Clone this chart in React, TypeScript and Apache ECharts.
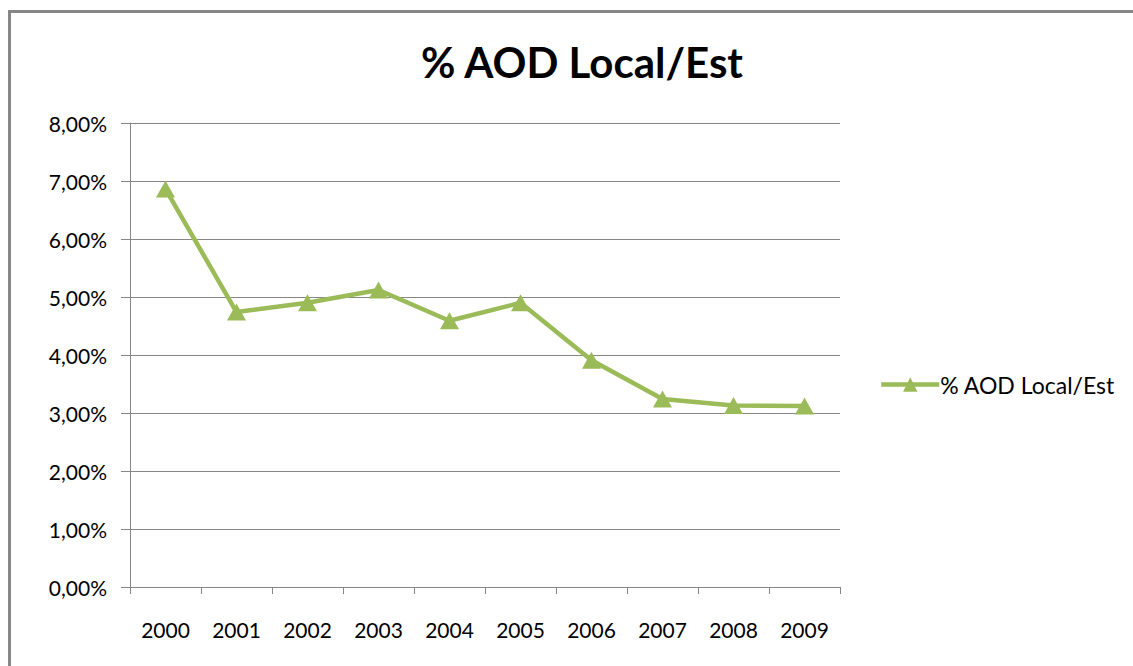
import React, { useEffect, useRef } from "react";
import * as echarts from "echarts";

const title = "% AOD Local/Est";
const seriesName = "% AOD Local/Est";
const years = ["2000", "2001", "2002", "2003", "2004", "2005", "2006", "2007", "2008", "2009"];
const values = [0.0686, 0.0474, 0.0490, 0.0512, 0.0459, 0.0490, 0.0391, 0.0324, 0.0313, 0.0312];
const yMin = 0;
const yMax = 0.08;
const yStep = 0.01;

const FONT = "Lato";

export default function App() {
  const ref = useRef<HTMLDivElement>(null);
  useEffect(() => {
    if (!ref.current) return;
    const chart = echarts.init(ref.current, undefined, { renderer: "svg" });
    chart.setOption({
      animation: false,
      backgroundColor: "#ffffff",
      textStyle: { fontFamily: FONT },
      title: {
        text: title,
        left: 577,
        top: 36,
        textAlign: "center",
        textStyle: { fontFamily: FONT, fontWeight: "bold", fontSize: 42, color: "#000000" },
      },
      graphic: [
        {
          type: "rect",
          shape: { x: 9.5, y: 11.5, width: 1200, height: 700 },
          style: { fill: "none", stroke: "#878787", lineWidth: 3 },
          silent: true,
          z: 100,
        },
      ],
      legend: {
        left: 874,
        top: 368,
        orient: "vertical",
        itemWidth: 58,
        itemHeight: 18,
        itemGap: 5,
        lineStyle: { width: 4.5 },
        textStyle: { fontFamily: FONT, fontSize: 23, color: "#000000", padding: [0, 0, 0, -4] },
        data: [seriesName],
      },
      grid: { left: 130, right: 293, top: 123, bottom: 79, containLabel: false },
      xAxis: {
        type: "category",
        data: years,
        boundaryGap: true,
        axisLine: { show: true, lineStyle: { color: "#868686", width: 1 } },
        axisTick: { show: true, length: 7, lineStyle: { color: "#868686" } },
        axisLabel: { color: "#000000", fontSize: 21, fontFamily: FONT, margin: 32 },
        splitLine: { show: false },
      },
      yAxis: {
        type: "value",
        min: yMin,
        max: yMax,
        interval: yStep,
        axisLine: { show: true, lineStyle: { color: "#868686", width: 1 } },
        axisTick: { show: true, length: 9, lineStyle: { color: "#868686" } },
        axisLabel: {
          color: "#000000",
          fontSize: 21,
          fontFamily: FONT,
          margin: 23,
          formatter: (v: number) => (v * 100).toFixed(2).replace(".", ",") + "%",
        },
        splitLine: { show: true, lineStyle: { color: "#868686", width: 1 } },
      },
      series: [
        {
          name: seriesName,
          type: "line",
          data: values,
          symbol: "triangle",
          symbolSize: [19, 17],
          showSymbol: true,
          lineStyle: { color: "#9BBB59", width: 4.5 },
          itemStyle: { color: "#9BBB59" },
          emphasis: { disabled: true },
        },
      ],
    });
    return () => chart.dispose();
  }, []);
  return (
    <div
      ref={ref}
      style={{ position: "fixed", left: 0, top: 0, width: 1133, height: 666 }}
    />
  );
}
